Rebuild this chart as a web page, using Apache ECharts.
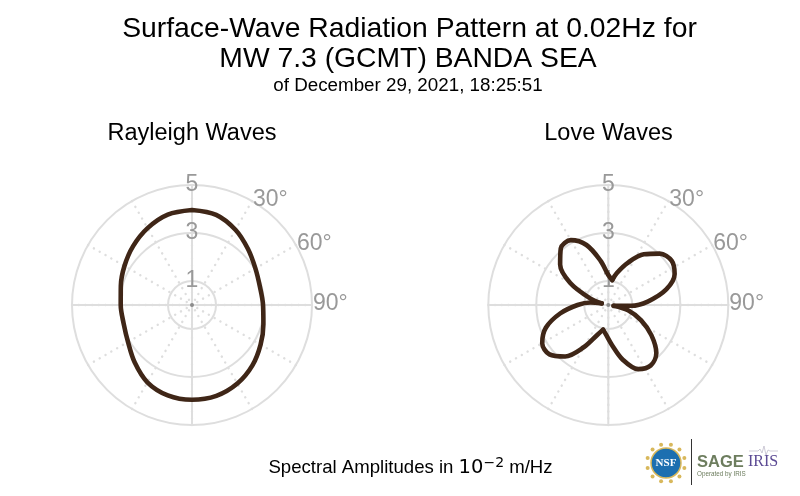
<!DOCTYPE html>
<html>
<head>
<meta charset="utf-8">
<title>Surface-Wave Radiation Pattern</title>
<style>
  html, body { margin: 0; padding: 0; background: #fff; }
  #chart { width: 800px; height: 496px; }
</style>
<script src="https://cdn.jsdelivr.net/npm/echarts@6/dist/echarts.min.js"></script>
</head>
<body>
<div id="chart"></div>
<script>
// azimuth in degrees (clockwise from north) and amplitude
var rayleighAngles = [0, 15, 30, 45, 60, 75, 90, 105, 120, 135, 150, 165, 180, 195, 210, 225, 240, 255, 270, 285, 300, 315, 330, 345, 360];
var rayleighValues = [3.96, 3.89, 3.62, 3.30, 3.05, 2.93, 2.96, 3.08, 3.30, 3.56, 3.78, 3.92, 3.95, 3.90, 3.72, 3.38, 3.08, 2.95, 2.97, 3.07, 3.25, 3.47, 3.70, 3.90, 3.96];

// Love pattern, one list per lobe so the cusps between lobes stay sharp
var loveAnglesNE = [9, 15, 25, 35, 45, 55, 65, 75, 85, 92, 98];
var loveValuesNE = [1.05, 1.38, 1.95, 2.58, 3.03, 3.22, 3.05, 2.50, 1.65, 0.95, 0.22];
var loveAnglesSE = [98, 105, 115, 125, 135, 145, 155, 165, 175, 185, 192];
var loveValuesSE = [0.22, 0.85, 1.51, 2.19, 2.83, 3.08, 2.95, 2.37, 1.66, 1.22, 1.05];
var loveAnglesSW = [192, 200, 210, 220, 230, 240, 250, 260, 270, 278, 284];
var loveValuesSW = [1.05, 1.32, 2.02, 2.80, 3.20, 3.18, 2.77, 2.04, 1.28, 0.75, 0.28];
var loveAnglesNW = [284, 290, 300, 310, 320, 330, 340, 350, 360, 369];
var loveValuesNW = [0.28, 0.81, 1.83, 2.62, 3.08, 3.12, 2.66, 1.88, 1.25, 1.05];

var radiusTicks = [1, 3, 5];
var angleLabels = [30, 60, 90];

var centers = [[192, 305], [608.3, 305]];
var gridColor = '#dedede';
var labelColor = '#999999';
var lineColor = '#3f2617';
var fontName = '"Liberation Sans", Arial, sans-serif';

function pairs(values, angles) {
  return values.map(function(v, i) {
    return [v, angles[i]];
  });
}

var polar = [], angleAxis = [], radiusAxis = [];

// each plot has two polars: dotted spokes, and solid cross with rings
centers.forEach(function(center) {
  polar.push({ center: center, radius: 120 });
  angleAxis.push({
    polarIndex: polar.length - 1,
    type: 'value', min: 0, max: 360, interval: 30, startAngle: 90, clockwise: true,
    axisLine: { show: false },
    axisTick: { show: false },
    axisLabel: { show: false },
    splitLine: { show: true, lineStyle: { color: gridColor, width: 2.4, type: [0.1, 6.6], cap: 'round' } }
  });
  radiusAxis.push({
    polarIndex: polar.length - 1,
    type: 'value', min: 0, max: 5, interval: 1,
    axisLine: { show: false },
    axisTick: { show: false },
    axisLabel: { show: false },
    splitLine: { show: false }
  });

  polar.push({ center: center, radius: 120 });
  angleAxis.push({
    polarIndex: polar.length - 1,
    type: 'value', min: 0, max: 360, interval: 90, startAngle: 90, clockwise: true,
    axisLine: { show: false },
    axisTick: { show: false },
    axisLabel: { show: false },
    splitLine: { show: true, lineStyle: { color: gridColor, width: 2 } }
  });
  radiusAxis.push({
    polarIndex: polar.length - 1,
    type: 'value', min: 0, max: 5, interval: 1,
    axisLine: { show: false },
    axisTick: { show: false, customValues: radiusTicks },
    axisLabel: {
      show: true, customValues: radiusTicks, margin: 0, align: 'center', verticalAlign: 'middle',
      color: labelColor, fontSize: 23, fontFamily: fontName
    },
    splitLine: { show: true, lineStyle: { color: gridColor, width: 2 } }
  });
});

function patternSeries(values, angles, polarIndex) {
  return {
    type: 'line', coordinateSystem: 'polar', polarIndex: polarIndex,
    data: pairs(values, angles),
    smooth: 0.33, showSymbol: false, silent: true, animation: false, z: 5,
    lineStyle: { color: lineColor, width: 4.6, cap: 'round', join: 'round' }
  };
}

function centerDot(polarIndex) {
  return {
    type: 'scatter', coordinateSystem: 'polar', polarIndex: polarIndex,
    data: [[0, 0]], symbolSize: 4, silent: true, animation: false,
    itemStyle: { color: '#8c8c8c', opacity: 1 }
  };
}

// the axis forces bottom alignment on its own angle labels, so hang them on the outer ring
function angleLabelSeries(polarIndex) {
  return {
    type: 'scatter', coordinateSystem: 'polar', polarIndex: polarIndex,
    data: angleLabels.map(function(a) { return [5, a]; }),
    symbolSize: 0, silent: true, animation: false,
    itemStyle: { opacity: 1 },
    label: {
      show: true, position: 'right', distance: 1, offset: [0, -1], opacity: 1,
      color: labelColor, fontSize: 23, fontFamily: fontName,
      formatter: function(p) { return p.value[1] + '°'; }
    }
  };
}

// NSF seal, divider and SAGE / IRIS wordmarks, bottom right
var logo = [
  { type: 'rect', shape: { x: 691, y: 439, width: 1, height: 46 }, style: { fill: '#333' } },
  { type: 'text', style: { x: 697, y: 462, text: 'SAGE', fill: '#6d7d5e', font: 'bold 16.5px ' + fontName, textVerticalAlign: 'middle' } },
  { type: 'text', style: { x: 697, y: 474, text: 'Operated by IRIS', fill: '#6d7d5e', font: '6.3px ' + fontName, textVerticalAlign: 'middle' } },
  { type: 'text', style: { x: 748, y: 462, text: 'IRIS', fill: '#5c4a94', font: '16px "Liberation Serif", serif', textVerticalAlign: 'middle' } },
  { type: 'polyline', shape: { points: [[749, 451], [758, 451], [760, 449], [762, 453], [764, 446], [766, 455], [768, 450], [770, 451], [778, 451]] }, style: { stroke: '#b9b4c6', lineWidth: 0.7, fill: null } }
];
for (var k = 0; k < 12; k++) {
  var a = k * Math.PI / 6 + Math.PI / 12;
  logo.push({ type: 'circle', shape: { cx: 666 + 19 * Math.cos(a), cy: 463 + 19 * Math.sin(a), r: 2 }, style: { fill: '#d8b85c' } });
}
logo.push({ type: 'circle', shape: { cx: 666, cy: 463, r: 15 }, style: { fill: '#1c6fb0', stroke: '#d8b85c', lineWidth: 1.5 } });
logo.push({ type: 'text', style: { x: 666, y: 463, text: 'NSF', fill: '#fff', font: 'bold 11px "Liberation Serif", serif', textAlign: 'center', textVerticalAlign: 'middle' } });

var myChart = echarts.init(document.getElementById('chart'));

myChart.setOption({
  animation: false,
  backgroundColor: '#fff',
  title: [
    { text: 'Surface-Wave Radiation Pattern at 0.02Hz for', left: 409.5, top: 15, padding: 0, textAlign: 'center', textStyle: { fontFamily: fontName, fontSize: 28.3, fontWeight: 'normal', color: '#000' } },
    { text: 'MW 7.3 (GCMT) BANDA SEA', left: 408, top: 45, padding: 0, textAlign: 'center', textStyle: { fontFamily: fontName, fontSize: 28.3, fontWeight: 'normal', color: '#000' } },
    { text: 'of December 29, 2021, 18:25:51', left: 408, top: 76, padding: 0, textAlign: 'center', textStyle: { fontFamily: fontName, fontSize: 18.8, fontWeight: 'normal', color: '#000' } },
    { text: 'Rayleigh Waves', left: 192, top: 122, padding: 0, textAlign: 'center', textStyle: { fontFamily: fontName, fontSize: 23.5, fontWeight: 'normal', color: '#000' } },
    { text: 'Love Waves', left: 608.5, top: 122, padding: 0, textAlign: 'center', textStyle: { fontFamily: fontName, fontSize: 23.5, fontWeight: 'normal', color: '#000' } },
    {
      text: 'Spectral Amplitudes in {ten|10}{exp|−2} m/Hz', left: 410.5, top: 456, padding: 0, textAlign: 'center',
      textStyle: {
        fontFamily: fontName, fontSize: 18.6, fontWeight: 'normal', color: '#000',
        rich: {
          ten: { fontFamily: '"DejaVu Sans", sans-serif', fontSize: 19.5, color: '#000' },
          exp: { fontFamily: '"DejaVu Sans", sans-serif', fontSize: 14, color: '#000', verticalAlign: 'top', padding: [0, 0, 10, 0] }
        }
      }
    }
  ],
  polar: polar,
  angleAxis: angleAxis,
  radiusAxis: radiusAxis,
  series: [
    patternSeries(rayleighValues, rayleighAngles, 1),
    patternSeries(loveValuesNE, loveAnglesNE, 3),
    patternSeries(loveValuesSE, loveAnglesSE, 3),
    patternSeries(loveValuesSW, loveAnglesSW, 3),
    patternSeries(loveValuesNW, loveAnglesNW, 3),
    centerDot(1),
    centerDot(3),
    angleLabelSeries(1),
    angleLabelSeries(3)
  ],
  graphic: logo
});
</script>
</body>
</html>
